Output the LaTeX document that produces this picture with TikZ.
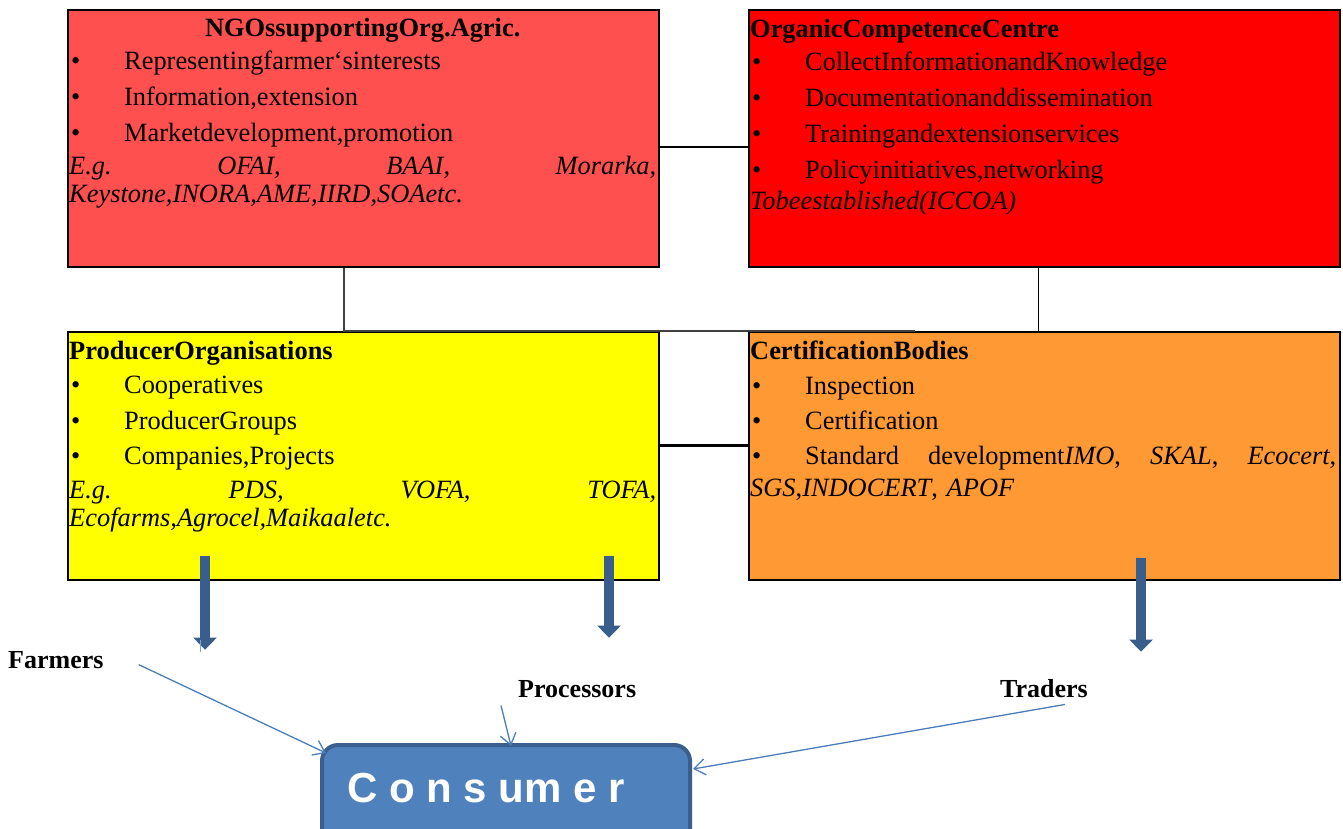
\documentclass[tikz,border=0pt]{standalone}
\usepackage{fontspec}
\setmainfont{Liberation Serif}
\newfontfamily\consfont{Liberation Sans}
\usetikzlibrary{arrows.meta,calc}
\definecolor{ngored}{HTML}{FF5050}
\definecolor{occred}{HTML}{FF0000}
\definecolor{poyel}{HTML}{FFFF00}
\definecolor{cborange}{HTML}{FF9933}
\definecolor{blockblue}{HTML}{3A5E8C}
\definecolor{consfill}{HTML}{4F81BD}
\definecolor{consborder}{HTML}{3A5F8E}
\definecolor{thinblue}{HTML}{4A7EBB}
\newcommand{\bul}[1]{\makebox[55pt][l]{\hspace{2pt}\textbullet}#1}
\tikzset{
  box/.style={draw=black, line width=1.6pt, minimum width=591pt, minimum height=257pt, anchor=north west, inner sep=0pt},
  boxb/.style={box, minimum height=248pt},
  txt/.style={anchor=base west, inner sep=0pt, text width=#1, align=left, font=\fontsize{26.4}{28}\selectfont},
  lbl/.style={anchor=base west, inner sep=0pt, font=\fontsize{26}{28}\selectfont\bfseries},
  link/.style={draw=black, line width=1.6pt},
  blockarrow/.style={draw=blockblue, line width=10pt, -{Triangle[width=23pt,length=12pt]}},
  thinarrow/.style={draw=thinblue, line width=1.3pt, -{Straight Barb[length=11pt,width=16pt,line width=1.3pt]}},
}
\begin{document}
\begin{tikzpicture}[x=1pt,y=-1pt]
\useasboundingbox (0,0) rectangle (1343,829);

% boxes
\node[box, fill=ngored] (ngo) at (67,9) {};
\node[box, fill=occred] (occ) at (748,9) {};
\node[boxb, fill=poyel] (po) at (67,331) {};
\node[boxb, fill=cborange] (cb) at (748,331) {};

% texts
\node[txt=587pt] (ngot) at (69,37) {\null\hfill\textbf{NGOssupportingOrg.Agric.}\hfill\null\\[5pt]
\bul{Representingfarmer‘sinterests}\\[8pt]
\bul{Information,extension}\\[8pt]
\bul{Marketdevelopment,promotion}\\[5pt]
\textit{E.g.}\hfill\textit{OFAI,}\hfill\textit{BAAI,}\hfill\textit{Morarka,}\\
\textit{Keystone,INORA,AME,IIRD,SOAetc.}};

\node[txt=586pt] (occt) at (750,38) {\textbf{OrganicCompetenceCentre}\\[5pt]
\bul{CollectInformationandKnowledge}\\[8pt]
\bul{Documentationanddissemination}\\[8pt]
\bul{Trainingandextensionservices}\\[8pt]
\bul{Policyinitiatives,networking}\\[3pt]
\textit{Tobeestablished(ICCOA)}};

\node[txt=587pt] (pot) at (69,359) {\textbf{ProducerOrganisations}\\[6pt]
\bul{Cooperatives}\\[8pt]
\bul{ProducerGroups}\\[7pt]
\bul{Companies,Projects}\\[6pt]
\textit{E.g.}\hfill\textit{PDS,}\hfill\textit{VOFA,}\hfill\textit{TOFA,}\\
\textit{Ecofarms,Agrocel,Maikaaletc.}};

\node[txt=586pt] (cbt) at (750,359) {\textbf{CertificationBodies}\\[7pt]
\bul{Inspection}\\[7pt]
\bul{Certification}\\[7pt]
\bul{Standard}\hfill development\textit{IMO},\hfill\textit{SKAL},\hfill\textit{Ecocert},\\[4pt]
\textit{SGS},\textit{INDOCERT}, \textit{APOF}};

% connecting lines
\draw[link] ($(ngo.east)+(0,8.5)$) -- ($(occ.west)+(0,8.5)$);
\draw[link, draw=black!75, line width=2pt] ($(ngo.south)+(-19.5,0)$) -- ++(0,63) -- ++(571,0);
\draw[link] ($(occ.south)+(-6,0)$) -- ($(cb.north)+(-6,0)$);
\draw[link, line width=3pt] ($(po.east)+(0,-10)$) -- ($(cb.west)+(0,-10)$);

% block arrows
\coordinate (a1s) at ($(po.south west)+(138,-25)$);
\coordinate (a1e) at ($(po.south west)+(138,69)$);
\coordinate (a2s) at ($(po.south west)+(542,-25)$);
\coordinate (a2e) at ($(po.south west)+(542,57)$);
\coordinate (a3s) at ($(cb.south west)+(393,-23)$);
\coordinate (a3e) at ($(cb.south west)+(393,71)$);
\draw[blockarrow] (a1s) -- (a1e);
\draw[blockarrow] (a2s) -- (a2e);
\draw[blockarrow] (a3s) -- (a3e);
\draw[draw=thinblue!70, line width=1pt] ($(a1e)+(-5,-10)$) -- ++(0,12);

% labels
\node[lbl] (farmers) at (8,668) {Farmers};
\node[lbl] (proc) at (518,697) {Processors};
\node[lbl] (traders) at (1000,697) {Traders};

% consumer
\node[draw=consborder, fill=consfill, line width=4pt, rounded corners=16pt, minimum width=368pt, minimum height=110pt, anchor=north west, inner sep=0pt] (cons) at (320,743) {};
\node[anchor=base west, inner sep=0pt, text=white, font=\consfont\fontsize{42}{46}\selectfont\bfseries] (constext) at (347,802) {C o n s um e r};

% thin connectors
\coordinate (fs) at ($(farmers.east)+(35,5)$);
\coordinate (ps) at ($(proc.south west)+(-17,8)$);
\coordinate (ts) at ($(traders.south east)+(-23,7)$);
\draw[thinarrow] (fs) -- ($(cons.north west)+(6,10)$);
\draw[thinarrow] (ps) -- ($(cons.north)+(5,3)$);
\draw[thinarrow] (ts) -- ($(cons.east)+(1,-31)$);
\end{tikzpicture}
\end{document}
